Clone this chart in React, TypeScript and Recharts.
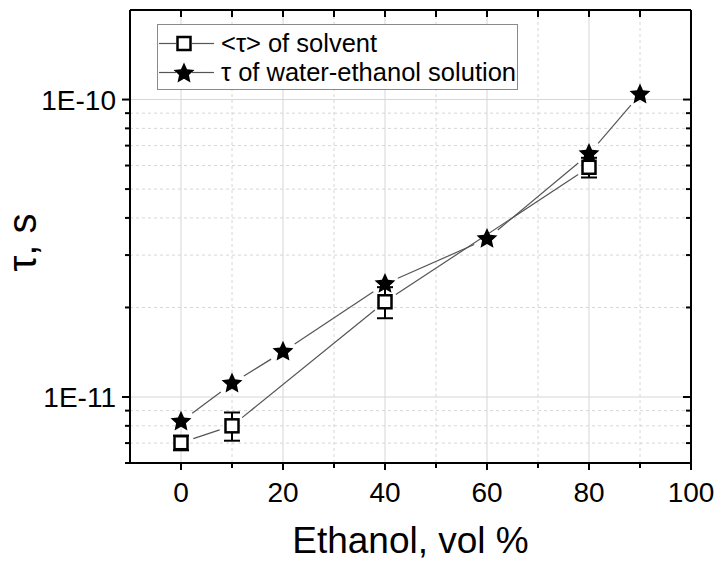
import React from 'react';
import { ComposedChart, Scatter, XAxis, YAxis, ErrorBar, ReferenceLine, Legend, Label } from 'recharts';

// <tau> of solvent (open squares, with error bars)
const ethanolSolvent = [0, 10, 40, 80];
const tauSolvent = [7.02e-12, 8.0e-12, 2.09e-11, 5.92e-11];
const tauSolventErr = [0.4e-12, 0.87e-12, 2.5e-12, 4.5e-12];

// tau of water-ethanol solution (stars)
const ethanolSolution = [0, 10, 20, 40, 60, 80, 90];
const tauSolution = [8.26e-12, 1.11e-11, 1.42e-11, 2.4e-11, 3.4e-11, 6.56e-11, 1.04e-10];

const xTicks = [0, 10, 20, 30, 40, 50, 60, 70, 80, 90, 100];
const xMajorTicks = [0, 20, 40, 60, 80, 100];
const xMajorGrid = [0, 20, 40, 60, 80];
const xMinorGrid = [10, 30, 50, 70, 90];

const yTicks = [
  6e-12, 7e-12, 8e-12, 9e-12, 1e-11,
  2e-11, 3e-11, 4e-11, 5e-11, 6e-11, 7e-11, 8e-11, 9e-11, 1e-10,
];
const yMajorTicks = [1e-11, 1e-10];
const yTickLabels = ['1E-11', '1E-10'];
const yMinorGrid = [7e-12, 8e-12, 9e-12, 2e-11, 3e-11, 4e-11, 5e-11, 6e-11, 7e-11, 8e-11, 9e-11];

const FONT = 'Arial, "Liberation Sans", sans-serif';
const LINE = '#555';
const GRID = '#d6d6d6';

const solventData = ethanolSolvent.map((x, i) => ({ x, y: tauSolvent[i], err: tauSolventErr[i] }));
const solutionData = ethanolSolution.map((x, i) => ({ x, y: tauSolution[i] }));

const isMajorY = (v: number) => yMajorTicks.some((m) => Math.abs(m - v) / m < 1e-6);

const starPath = (cx: number, cy: number, R: number) => {
  const r = R * 0.47;
  let d = '';
  for (let i = 0; i < 10; i++) {
    const a = ((-90 + i * 36) * Math.PI) / 180;
    const rad = i % 2 === 0 ? R : r;
    d += (i === 0 ? 'M' : 'L') + (cx + rad * Math.cos(a)).toFixed(2) + ',' + (cy + rad * Math.sin(a)).toFixed(2);
  }
  return d + 'Z';
};

const StarShape = (props: any) => <path d={starPath(props.cx, props.cy, 11)} fill="#000" />;

const SquareShape = (props: any) => (
  <rect x={props.cx - 6.5} y={props.cy - 6.5} width={13} height={13} fill="#fff" stroke="#000" strokeWidth={2.5} />
);

// connecting line that stops short of each marker
const GapLine = ({ points, gap }: any) => {
  const segs: React.ReactNode[] = [];
  for (let i = 0; i < (points || []).length - 1; i++) {
    const a = points[i];
    const b = points[i + 1];
    const dx = b.x - a.x;
    const dy = b.y - a.y;
    const len = Math.hypot(dx, dy);
    if (len <= 2 * gap) continue;
    const ux = dx / len;
    const uy = dy / len;
    segs.push(
      <line key={i} x1={a.x + ux * gap} y1={a.y + uy * gap} x2={b.x - ux * gap} y2={b.y - uy * gap} stroke={LINE} strokeWidth={1.2} />
    );
  }
  return <g>{segs}</g>;
};

const XTickBottom = ({ x, y, payload }: any) => {
  const major = xMajorTicks.includes(payload.value);
  return (
    <g>
      <line x1={x} y1={y} x2={x} y2={y + (major ? 7 : 5)} stroke="#000" strokeWidth={2} />
      {major && (
        <text x={x} y={y + 39} textAnchor="middle" fontSize={28} fontFamily={FONT} fill="#000">
          {payload.value}
        </text>
      )}
    </g>
  );
};

const XTickTop = ({ x, y }: any) => <line x1={x} y1={y} x2={x} y2={y + 7} stroke="#000" strokeWidth={2} />;

const YTickLeft = ({ x, y, payload }: any) => {
  const major = isMajorY(payload.value);
  const idx = yMajorTicks.findIndex((m) => Math.abs(m - payload.value) / m < 1e-6);
  return (
    <g>
      <line x1={x} y1={y} x2={x - (major ? 8 : 5)} y2={y} stroke="#000" strokeWidth={2} />
      {major && (
        <text x={x - 14} y={y + 10} textAnchor="end" fontSize={28} fontFamily={FONT} fill="#000">
          {yTickLabels[idx]}
        </text>
      )}
    </g>
  );
};

const YTickRight = ({ x, y, payload }: any) => {
  const major = isMajorY(payload.value);
  return <line x1={x} y1={y} x2={x - (major ? 8 : 5)} y2={y} stroke="#000" strokeWidth={2} />;
};

const LegendSample = ({ star }: { star: boolean }) => (
  <svg width={62} height={29} style={{ display: 'block' }}>
    <line x1={1} y1={14.5} x2={18} y2={14.5} stroke={LINE} strokeWidth={1.2} />
    <line x1={34} y1={14.5} x2={56} y2={14.5} stroke={LINE} strokeWidth={1.2} />
    {star ? (
      <path d={starPath(26, 15.5, 11)} fill="#000" />
    ) : (
      <rect x={19.5} y={8} width={13} height={13} fill="#fff" stroke="#000" strokeWidth={2.5} />
    )}
  </svg>
);

const LegendBox = () => {
  const row = (top: number, star: boolean, text: string) => (
    <div style={{ position: 'absolute', left: 0, top, height: 29, display: 'flex', alignItems: 'center' }}>
      <LegendSample star={star} />
      <span style={{ marginLeft: 1, fontSize: 25.5, fontFamily: FONT, color: '#000', whiteSpace: 'nowrap', lineHeight: '29px' }}>
        {text}
      </span>
    </div>
  );
  return (
    <div
      style={{
        position: 'relative',
        width: 361,
        height: 66,
        border: '1px solid #8a8a8a',
        background: '#fff',
        boxSizing: 'border-box',
      }}
    >
      {row(4, false, '<τ> of solvent')}
      {row(33, true, 'τ of water-ethanol solution')}
    </div>
  );
};

const App = () => {
  return (
    <div style={{ position: 'absolute', left: 0, top: 0, background: '#fff' }}>
      <ComposedChart width={716} height={562} margin={{ top: 9, right: 24, left: 0, bottom: 0 }}>
        <XAxis
          dataKey="x"
          type="number"
          domain={[-10, 100]}
          allowDataOverflow
          ticks={xTicks}
          interval={0}
          height={99}
          tickSize={0}
          tickMargin={0}
          tickLine={false}
          axisLine={{ stroke: '#000', strokeWidth: 2 }}
          tick={<XTickBottom />}
        >
          <Label value="Ethanol, vol %" position="insideBottom" offset={9} style={{ fontSize: 37, fontFamily: FONT, fill: '#000' }} />
        </XAxis>
        <XAxis
          xAxisId="top"
          dataKey="x"
          orientation="top"
          type="number"
          domain={[-10, 100]}
          allowDataOverflow
          ticks={xTicks}
          interval={0}
          height={1}
          tickSize={0}
          tickMargin={0}
          tickLine={false}
          axisLine={{ stroke: '#000', strokeWidth: 2 }}
          tick={<XTickTop />}
        />
        <YAxis
          dataKey="y"
          type="number"
          scale="log"
          domain={[6e-12, 2e-10]}
          allowDataOverflow
          ticks={yTicks}
          interval={0}
          width={130}
          tickSize={0}
          tickMargin={0}
          tickLine={false}
          axisLine={{ stroke: '#000', strokeWidth: 2 }}
          tick={<YTickLeft />}
        >
          <Label
            content={({ viewBox }: any) => {
              const cx = (viewBox?.x ?? 0) + 36;
              const cy = (viewBox?.y ?? 10) + (viewBox?.height ?? 453) / 2 + 6;
              return (
                <text x={cx} y={cy} transform={`rotate(-90, ${cx}, ${cy})`} textAnchor="middle" fontSize={40} fontFamily={FONT} fill="#000">
                  τ, s
                </text>
              );
            }}
          />
        </YAxis>
        <YAxis
          yAxisId="right"
          dataKey="y"
          orientation="right"
          type="number"
          scale="log"
          domain={[6e-12, 2e-10]}
          allowDataOverflow
          ticks={yTicks}
          interval={0}
          width={1}
          tickSize={0}
          tickMargin={0}
          tickLine={false}
          axisLine={{ stroke: '#000', strokeWidth: 2 }}
          tick={<YTickRight />}
        />

        {xMajorGrid.map((v) => (
          <ReferenceLine key={'xm' + v} x={v} stroke={GRID} strokeWidth={1} />
        ))}
        {xMinorGrid.map((v) => (
          <ReferenceLine key={'xn' + v} x={v} stroke={GRID} strokeWidth={1} strokeDasharray="3 3" />
        ))}
        {yMajorTicks.map((v) => (
          <ReferenceLine key={'ym' + v} y={v} stroke={GRID} strokeWidth={1} />
        ))}
        {yMinorGrid.map((v) => (
          <ReferenceLine key={'yn' + v} y={v} stroke={GRID} strokeWidth={1} strokeDasharray="3 3" />
        ))}

        <Scatter
          name="<τ> of solvent"
          data={solventData}
          shape={<SquareShape />}
          line={(p: any) => <GapLine points={p.points} gap={13} />}
          isAnimationActive={false}
        >
          <ErrorBar dataKey="err" direction="y" width={8} stroke="#000" strokeWidth={2} />
        </Scatter>
        {/* star series sits on the top/right axes, which share the same domains */}
        <Scatter
          name="τ of water-ethanol solution"
          data={solutionData}
          xAxisId="top"
          yAxisId="right"
          shape={<StarShape />}
          line={(p: any) => <GapLine points={p.points} gap={14} />}
          isAnimationActive={false}
        />

        <Legend
          layout="vertical"
          align="center"
          verticalAlign="middle"
          wrapperStyle={{ left: 157, top: 24, width: 361, height: 66 }}
          content={() => <LegendBox />}
        />
      </ComposedChart>
    </div>
  );
};

export default App;
